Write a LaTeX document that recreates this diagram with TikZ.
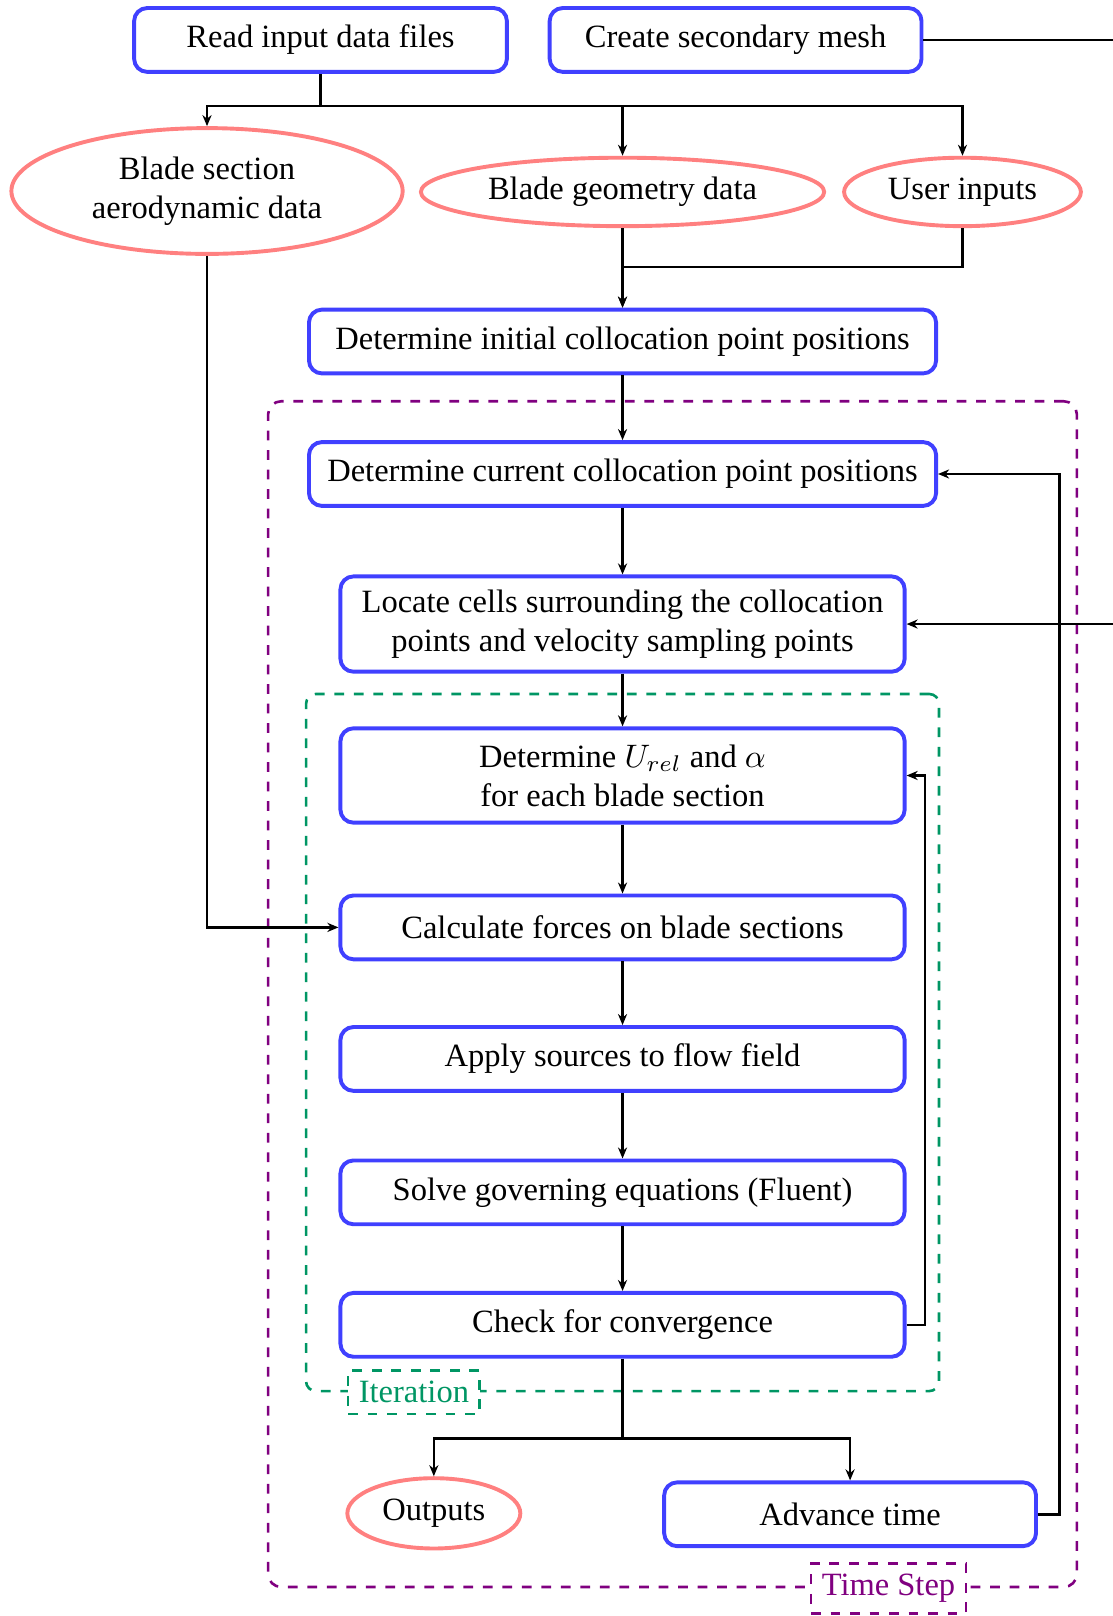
\documentclass[tikz,border=0pt]{standalone}
\usepackage{fontspec}
\setmainfont{Liberation Serif}
\usepackage{xcolor}
\definecolor{itergreen}{RGB}{0,150,100}
\definecolor{steppurple}{RGB}{128,0,128}
\usetikzlibrary{shapes.geometric,arrows.meta,positioning,calc,
                backgrounds,fit}
\tikzset{
  sim_proc/.style={rectangle,rounded corners=4pt,
    draw=blue!75,very thick,fill=white,
    align=center,inner sep=3pt,
    minimum width=6.10cm,minimum height=0.69cm},
  sim_data/.style={ellipse,
    draw=red!50,very thick,fill=white,
    align=center,inner sep=1pt},
  loop_iter/.style={rectangle,rounded corners=3pt,
    draw=itergreen,thick,dashed,inner sep=0.35cm},
  loop_time/.style={rectangle,rounded corners=4pt,
    draw=steppurple,thick,dashed,inner sep=0.42cm},
  tag_iter/.style={rectangle,draw=itergreen,text=itergreen,
    thick,dashed,fill=white,inner sep=3.3pt},
  tag_time/.style={rectangle,draw=steppurple,text=steppurple,
    thick,dashed,fill=white,inner sep=3.3pt},
  arr/.style={-{Stealth[length=3.4pt,width=2.8pt]},thick,draw=black},
  line/.style={thick,draw=black},
}
\begin{document}
\begin{tikzpicture}
  \useasboundingbox (0,0) rectangle (12.03,-17.47);

  % --- Inputs ---
  \node (read) [sim_proc, minimum width=4.03cm] at (3.465,-0.432)
    {Read input data files};
  \node (mesh) [sim_proc, minimum width=4.02cm, right=0.42cm of read]
    {Create secondary mesh};
  \node (aero) [sim_data, minimum width=4.23cm, minimum height=1.36cm]
    at (2.238,-2.065) {Blade section\\aerodynamic data};
  \node (geom) [sim_data, minimum width=4.36cm, minimum height=0.74cm]
    at (6.73,-2.075) {Blade geometry data};
  \node (user) [sim_data, minimum width=2.56cm, minimum height=0.74cm]
    at (10.405,-2.075) {User inputs};

  % --- Main flow (top to bottom) ---
  \node (init) [sim_proc, minimum width=6.78cm] at (6.73,-3.692)
    {Determine initial collocation point positions};
  \node (curr) [sim_proc, minimum width=6.78cm, below=0.70cm of init]
    {Determine current collocation point positions};
  \node (loc)  [sim_proc, minimum height=1.03cm, below=0.72cm of curr]
    {Locate cells surrounding the collocation\\
     points and velocity sampling points};
  \node (urel) [sim_proc, minimum height=1.02cm, below=0.57cm of loc]
    {Determine $U_{rel}$ and $\alpha$\\for each blade section};
  \node (force) [sim_proc, below=0.745cm of urel]
    {Calculate forces on blade sections};
  \node (src)  [sim_proc, below=0.69cm of force]
    {Apply sources to flow field};
  \node (solve) [sim_proc, below=0.71cm of src]
    {Solve governing equations (Fluent)};
  \node (conv) [sim_proc, below=0.70cm of solve]
    {Check for convergence};

  % --- End of time step ---
  \node (out) [sim_data, minimum width=1.87cm, minimum height=0.76cm]
    at (4.69,-16.36) {Outputs};
  \node (adv) [sim_proc, minimum width=4.02cm] at (9.19,-16.37)
    {Advance time};

  % --- Arrows (inputs) ---
  \draw[line] (read.south) -- ++(0,-0.35) coordinate (rsplit);
  \draw[arr] (rsplit) -| (aero.north);
  \draw[arr] (rsplit) -| (geom.north);
  \draw[arr] (rsplit) -| (user.north);
  \draw[arr] (geom.south) -- (init.north);
  \draw[arr] (user.south) -- ++(0,-0.42) -| (init.north);
  % mesh line leaves the page on the right and comes back to loc
  \draw[arr] (mesh.east) -- ++(4,0) |- (loc.east);

  % --- Arrows (main flow) ---
  \draw[arr] (init)  -- (curr);
  \draw[arr] (curr)  -- (loc);
  \draw[arr] (loc)   -- (urel);
  \draw[arr] (urel)  -- (force);
  \draw[arr] (force) -- (src);
  \draw[arr] (src)   -- (solve);
  \draw[arr] (solve) -- (conv);
  \draw[arr] (aero.south) |- (force.west);
  % iteration loop-back
  \draw[arr] (conv.east) -- ++(0.2,0) |- (urel.east);
  % split to outputs and advance time
  \draw[line] (conv.south) -- ++(0,-0.865) coordinate (csplit);
  \draw[arr] (csplit) -| (out.north);
  \draw[arr] (csplit) -| (adv.north);
  % time step loop-back
  \draw[arr] (adv.east) -- ++(0.23,0) |- (curr.east);

  % --- Loop frames ---
  \begin{pgfonlayer}{background}
    \node (iterbox) [loop_iter, fit=(urel)(conv)] {};
    \node (timebox) [loop_time, fit=(curr)(adv)] {};
  \end{pgfonlayer}
  \node (itertag) [tag_iter] at ($(iterbox.south west)+(1.18,0)$)
    {Iteration};
  \node (timetag) [tag_time] at ($(timebox.south east)+(-2.05,0)$)
    {Time Step};
\end{tikzpicture}
\end{document}
